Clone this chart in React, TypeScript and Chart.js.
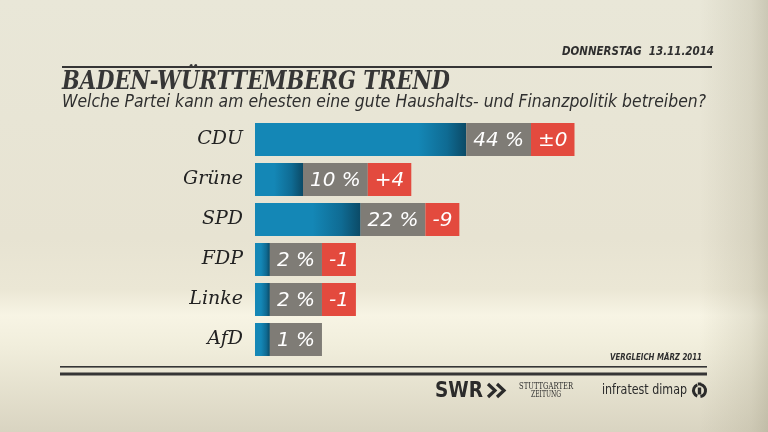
import React, { useEffect, useRef } from "react";
import { Chart, registerables } from "chart.js";

Chart.register(...registerables);

const parties = ["CDU", "Grüne", "SPD", "FDP", "Linke", "AfD"];
const shares = [44, 10, 22, 2, 2, 1];
const changes = ["±0", "+4", "-9", "-1", "-1", ""];
const MIN_BAR = 3.1; // smallest drawn bar length (in %)

const TITLE = "BADEN-WÜRTTEMBERG TREND";
const SUBTITLE = "Welche Partei kann am ehesten eine gute Haushalts- und Finanzpolitik betreiben?";
const DATE = "DONNERSTAG  13.11.2014";
const NOTE = "VERGLEICH MÄRZ 2011";

const BLUE = "#1487b6";
const BLUE_MID = "#0f6b93";
const BLUE_DARK = "#0b4a66";
const GRAY = "#7f7c76";
const RED = "#e34a3e";
const INK = "#2f2f2f";

const bgPlugin = {
  id: "bg",
  beforeDraw(chart: any) {
    const { ctx, width, height } = chart;
    ctx.save();
    const g = ctx.createLinearGradient(0, 0, 0, height);
    g.addColorStop(0, "#e9e7d8");
    g.addColorStop(0.55, "#e7e3d2");
    g.addColorStop(0.67, "#ebe7d5");
    g.addColorStop(0.73, "#f7f4e4");
    g.addColorStop(0.8, "#f1eedc");
    g.addColorStop(1, "#d9d4c1");
    ctx.fillStyle = g;
    ctx.fillRect(0, 0, width, height);
    const h = ctx.createLinearGradient(700, 0, width, 0);
    h.addColorStop(0, "rgba(160,155,130,0)");
    h.addColorStop(0.75, "rgba(160,155,130,0.22)");
    h.addColorStop(1, "rgba(150,145,120,0.36)");
    ctx.fillStyle = h;
    ctx.fillRect(700, 0, width - 700, height);
    ctx.restore();
  },
};

const boxesPlugin = {
  id: "boxes",
  afterDatasetsDraw(chart: any) {
    const { ctx } = chart;
    const meta = chart.getDatasetMeta(0);
    ctx.save();
    ctx.font = 'italic 20px "DejaVu Sans"';
    ctx.textBaseline = "middle";
    ctx.textAlign = "center";
    meta.data.forEach((el: any, i: number) => {
      const h = el.height;
      const top = el.y - h / 2;
      let x = el.x;
      const sLabel = shares[i] + " %";
      const gw = ctx.measureText(sLabel).width + 14;
      ctx.fillStyle = GRAY;
      ctx.fillRect(x, top, gw, h);
      ctx.fillStyle = "#ffffff";
      ctx.fillText(sLabel, x + gw / 2, el.y + 1);
      x += gw;
      const c = changes[i];
      if (c) {
        const rw = ctx.measureText(c).width + 14;
        ctx.fillStyle = RED;
        ctx.fillRect(x, top, rw, h);
        ctx.fillStyle = "#ffffff";
        ctx.fillText(c, x + rw / 2, el.y + 1);
      }
    });
    ctx.restore();
  },
};

const textPlugin = {
  id: "texts",
  afterDraw(chart: any) {
    const { ctx } = chart;
    ctx.save();
    ctx.fillStyle = INK;
    ctx.textBaseline = "alphabetic";
    // date
    ctx.textAlign = "right";
    ctx.font = 'italic bold 12px "DejaVu Sans"';
    ctx.fillText(DATE, 714, 55, 152);
    // top rule
    ctx.fillStyle = "#353535";
    ctx.fillRect(62, 66, 650, 2);
    // title
    ctx.fillStyle = "#363636";
    ctx.textAlign = "left";
    ctx.font = 'italic bold 26px "DejaVu Serif"';
    ctx.fillText(TITLE, 62, 89, 388);
    // subtitle
    ctx.fillStyle = INK;
    ctx.font = 'italic 17px "DejaVu Sans"';
    ctx.fillText(SUBTITLE, 62, 107, 644);
    // note
    ctx.textAlign = "right";
    ctx.font = 'italic bold 9px "DejaVu Sans"';
    ctx.fillText(NOTE, 702, 360, 92);
    // bottom rules
    ctx.fillStyle = "#353535";
    ctx.fillRect(60, 366, 647, 1.6);
    ctx.fillRect(60, 372.5, 647, 3);
    // SWR logo
    ctx.fillStyle = "#2b2b2b";
    ctx.textAlign = "left";
    ctx.font = 'bold 21px "DejaVu Sans"';
    ctx.fillText("SWR", 435, 397, 48);
    ctx.strokeStyle = "#2b2b2b";
    ctx.lineWidth = 3.2;
    ctx.lineJoin = "miter";
    [488, 497].forEach((cx) => {
      ctx.beginPath();
      ctx.moveTo(cx, 384);
      ctx.lineTo(cx + 7, 390.5);
      ctx.lineTo(cx, 397);
      ctx.stroke();
    });
    // Stuttgarter Zeitung
    ctx.textAlign = "center";
    ctx.font = '9px "DejaVu Serif"';
    ctx.fillText("STUTTGARTER", 546, 389, 54);
    ctx.fillText("ZEITUNG", 546, 397, 30);
    // infratest dimap
    ctx.textAlign = "left";
    ctx.font = '14px "DejaVu Sans"';
    ctx.fillText("infratest dimap", 602, 394, 85);
    // icon
    ctx.lineWidth = 3;
    ctx.beginPath();
    ctx.arc(699.5, 390.5, 6, -Math.PI * 0.45, Math.PI * 0.45);
    ctx.stroke();
    ctx.beginPath();
    ctx.arc(699.5, 390.5, 6, Math.PI * 0.62, Math.PI * 1.38, false);
    ctx.stroke();
    ctx.fillRect(697.8, 387.5, 3.4, 7);
    ctx.fillRect(697.8, 382.5, 3.4, 3);
    ctx.restore();
  },
};

export default function App() {
  const ref = useRef<HTMLCanvasElement | null>(null);
  useEffect(() => {
    document.body.style.margin = "0";
    const barValues = shares.map((v) => Math.max(v, MIN_BAR));
    const chart = new Chart(ref.current as HTMLCanvasElement, {
      type: "bar",
      data: {
        labels: parties,
        datasets: [
          {
            data: barValues,
            borderWidth: 0,
            barPercentage: 0.825,
            categoryPercentage: 1,
            backgroundColor: (c: any) => {
              const chart = c.chart;
              const xs = chart.scales && chart.scales.x;
              if (!xs || c.dataIndex === undefined) return BLUE;
              const x0 = xs.getPixelForValue(0);
              const x1 = xs.getPixelForValue(barValues[c.dataIndex]);
              if (!isFinite(x0) || !isFinite(x1) || x1 <= x0) return BLUE;
              const len = Math.min(48, (x1 - x0) * 0.6);
              const g = chart.ctx.createLinearGradient(x1 - len, 0, x1, 0);
              g.addColorStop(0, BLUE);
              g.addColorStop(0.6, BLUE_MID);
              g.addColorStop(1, BLUE_DARK);
              return g;
            },
          },
        ],
      },
      options: {
        indexAxis: "y",
        responsive: false,
        animation: false,
        layout: { padding: { top: 119.5, bottom: 72.5, left: 0, right: 33 } },
        scales: {
          x: { min: 0, max: 100, display: false },
          y: {
            grid: { display: false, drawTicks: false },
            border: { display: false },
            ticks: {
              color: "#222222",
              padding: 12,
              font: { family: "DejaVu Serif", style: "italic", size: 19 },
            },
            afterFit: (s: any) => {
              s.width = 255;
            },
          },
        },
        plugins: { legend: { display: false }, tooltip: { enabled: false } },
      },
      plugins: [bgPlugin, boxesPlugin, textPlugin],
    } as any);
    return () => chart.destroy();
  }, []);
  return (
    <div style={{ position: "absolute", left: 0, top: 0, width: 768, height: 432 }}>
      <canvas ref={ref} width={768} height={432} style={{ width: 768, height: 432 }} />
    </div>
  );
}
